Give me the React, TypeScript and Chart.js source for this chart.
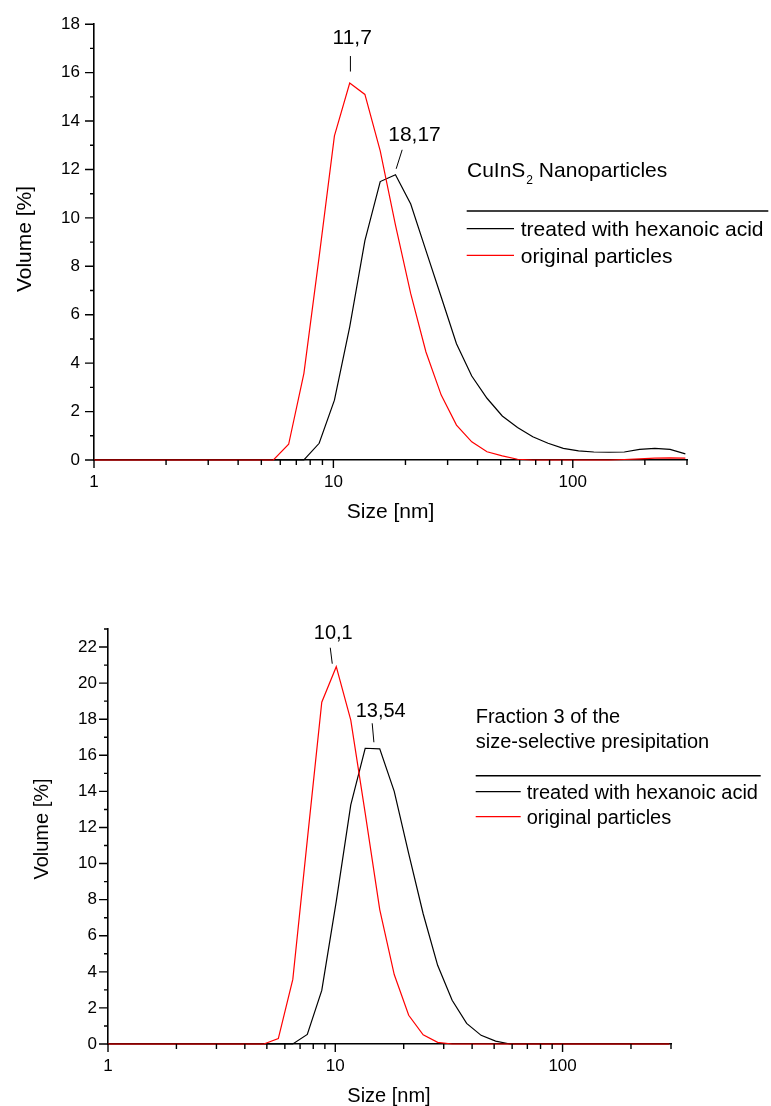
import React, { useEffect, useRef } from 'react';
import { Chart, registerables } from 'chart.js';

Chart.register(...registerables);

// DLS size classes [nm]
const sizeBins = [0.9649, 1.117, 1.294, 1.499, 1.736, 2.01, 2.328, 2.696, 3.122, 3.615, 4.187, 4.849, 5.615, 6.503, 7.531, 8.721, 10.1, 11.7, 13.54, 15.69, 18.17, 21.04, 24.36, 28.21, 32.67, 37.84, 43.82, 50.75, 58.77, 68.06, 78.82, 91.28, 105.7, 122.4, 141.8, 164.2, 190.1, 220.2, 255, 295.3];

// Top panel: CuInS2 nanoparticles, Volume [%]
const topTreated = [0, 0, 0, 0, 0, 0, 0, 0, 0, 0, 0, 0, 0, 0, 0, 0.69, 2.47, 5.5, 9.06, 11.5, 11.78, 10.57, 8.65, 6.73, 4.8, 3.47, 2.55, 1.82, 1.34, 0.96, 0.69, 0.48, 0.38, 0.33, 0.32, 0.33, 0.44, 0.48, 0.44, 0.25];
const topOriginal = [0, 0, 0, 0, 0, 0, 0, 0, 0, 0, 0, 0, 0, 0.65, 3.58, 8.4, 13.39, 15.57, 15.1, 12.77, 9.7, 6.87, 4.46, 2.68, 1.44, 0.75, 0.34, 0.17, 0.03, 0, 0, 0, 0, 0, 0, 0.02, 0.05, 0.08, 0.09, 0.08];

// Bottom panel: fraction 3, Volume [%]
const bottomTreated = [0, 0, 0, 0, 0, 0, 0, 0, 0, 0, 0, 0, 0, 0, 0.53, 2.97, 7.9, 13.25, 16.39, 16.36, 14.0, 10.55, 7.22, 4.36, 2.42, 1.14, 0.48, 0.16, 0, 0, 0, 0, 0, 0, 0, 0, 0, 0, 0, 0];
const bottomOriginal = [0, 0, 0, 0, 0, 0, 0, 0, 0, 0, 0, 0, 0.3, 3.58, 11.3, 18.94, 20.91, 17.95, 12.8, 7.45, 3.85, 1.59, 0.51, 0.09, 0, 0, 0, 0, 0, 0, 0, 0, 0, 0, 0, 0, 0, 0, 0, 0];

// Tick labels
const xMajorTicks = [1, 10, 100];
const topYTicks = [0, 2, 4, 6, 8, 10, 12, 14, 16, 18];
const bottomYTicks = [0, 2, 4, 6, 8, 10, 12, 14, 16, 18, 20, 22];

// Peak labels
const topPeakLabels = ['11,7', '18,17'];
const topPeakSizes = [11.7, 18.17];
const topPeakValues = [15.57, 11.78];
const bottomPeakLabels = ['10,1', '13,54'];
const bottomPeakSizes = [10.1, 13.54];
const bottomPeakValues = [20.91, 16.39];

const legendLabels = ['treated with hexanoic acid', 'original particles'];
const FAMILY = '"Liberation Sans", Arial, Helvetica, sans-serif';

type Seg = { t: string; sub?: boolean };
type Panel = {
  width: number;
  height: number;
  padTop: number;
  padRight: number;
  yAxisW: number;
  xAxisH: number;
  xMax: number;
  yMax: number;
  yTicks: number[];
  treated: number[];
  original: number[];
  tickFont: number;
  textFont: number;
  xTickPad: number;
  yTickPad: number;
  peaks: { label: string; size: number; value: number; l0: [number, number]; l1: [number, number]; t: [number, number] }[];
  titleLines: { segs: Seg[]; x: number; y: number }[];
  sepY: number;
  sepX0: number;
  sepX1: number;
  legLineX0: number;
  legLineX1: number;
  legTextX: number;
  legLineY: number[];
  legTextY: number[];
  yTitle: [number, number];
  xTitle: [number, number];
};

function makeDecor(p: Panel) {
  return {
    id: 'decor',
    afterDraw(chart: any) {
      const ctx = chart.ctx as CanvasRenderingContext2D;
      const xs = chart.scales.x;
      const ys = chart.scales.y;
      const a = chart.chartArea;
      ctx.save();
      ctx.strokeStyle = '#000';
      ctx.fillStyle = '#000';
      ctx.lineWidth = 1.4;
      // x ticks (major + minor)
      ctx.beginPath();
      for (let d = 1; d <= p.xMax; d *= 10) {
        for (let k = 1; k <= 9; k++) {
          const v = k * d;
          if (v > p.xMax + 1e-9) break;
          const px = xs.getPixelForValue(v);
          const len = k === 1 ? 8 : 5;
          ctx.moveTo(px, a.bottom);
          ctx.lineTo(px, a.bottom + len);
        }
      }
      // y ticks
      for (let v = 0; v <= p.yMax; v++) {
        const py = ys.getPixelForValue(v);
        const len = v % 2 === 0 ? 9 : 4;
        ctx.moveTo(a.left, py);
        ctx.lineTo(a.left - len, py);
      }
      ctx.stroke();

      // peak labels
      ctx.lineWidth = 1;
      ctx.font = `${p.textFont}px ${FAMILY}`;
      ctx.textAlign = 'center';
      ctx.textBaseline = 'alphabetic';
      for (const pk of p.peaks) {
        const px = xs.getPixelForValue(pk.size);
        const py = ys.getPixelForValue(pk.value);
        ctx.beginPath();
        ctx.moveTo(px + pk.l0[0], py + pk.l0[1]);
        ctx.lineTo(px + pk.l1[0], py + pk.l1[1]);
        ctx.stroke();
        ctx.fillText(pk.label, px + pk.t[0], py + pk.t[1]);
      }

      // title block
      ctx.textAlign = 'left';
      for (const line of p.titleLines) {
        let x = line.x;
        for (const s of line.segs) {
          if (s.sub) {
            ctx.font = `${Math.round(p.textFont * 0.58)}px ${FAMILY}`;
            ctx.fillText(s.t, x + 1, line.y + 7);
            x += ctx.measureText(s.t).width + 1;
          } else {
            ctx.font = `${p.textFont}px ${FAMILY}`;
            ctx.fillText(s.t, x, line.y);
            x += ctx.measureText(s.t).width;
          }
        }
      }
      ctx.font = `${p.textFont}px ${FAMILY}`;
      ctx.lineWidth = 1.4;
      ctx.beginPath();
      ctx.moveTo(p.sepX0, p.sepY);
      ctx.lineTo(p.sepX1, p.sepY);
      ctx.stroke();

      // legend
      const colors = ['#000000', '#ff0000'];
      for (let i = 0; i < legendLabels.length; i++) {
        ctx.strokeStyle = colors[i];
        ctx.lineWidth = 1.2;
        ctx.beginPath();
        ctx.moveTo(p.legLineX0, p.legLineY[i]);
        ctx.lineTo(p.legLineX1, p.legLineY[i]);
        ctx.stroke();
        ctx.fillStyle = '#000';
        ctx.fillText(legendLabels[i], p.legTextX, p.legTextY[i]);
      }

      // axis titles
      ctx.fillStyle = '#000';
      ctx.textAlign = 'center';
      ctx.fillText('Size [nm]', p.xTitle[0], p.xTitle[1]);
      ctx.save();
      ctx.translate(p.yTitle[0], p.yTitle[1]);
      ctx.rotate(-Math.PI / 2);
      ctx.fillText('Volume [%]', 0, 0);
      ctx.restore();
      ctx.restore();
    },
  };
}

function ChartPanel({ p, top }: { p: Panel; top: number }) {
  const ref = useRef<HTMLCanvasElement | null>(null);
  useEffect(() => {
    if (!ref.current) return;
    const mk = (vals: number[]) => sizeBins.map((s, i) => ({ x: s, y: vals[i] }));
    const tickFont = { family: FAMILY, size: p.tickFont };
    const clip = { left: 0, right: 4, top: 4, bottom: 4 };
    const chart = new Chart(ref.current, {
      type: 'line',
      data: {
        datasets: [
          { label: legendLabels[1], data: mk(p.original), borderColor: '#ff0000', borderWidth: 1.2, pointRadius: 0, tension: 0, fill: false, order: 0, clip },
          { label: legendLabels[0], data: mk(p.treated), borderColor: '#000000', borderWidth: 1.2, pointRadius: 0, tension: 0, fill: false, order: 1, clip },
        ],
      },
      options: {
        responsive: false,
        animation: false,
        devicePixelRatio: 1,
        events: [],
        layout: { padding: { top: p.padTop, right: p.padRight, left: 0, bottom: 0 } },
        plugins: { legend: { display: false }, tooltip: { enabled: false }, title: { display: false } },
        scales: {
          x: {
            type: 'logarithmic',
            min: 1,
            max: p.xMax,
            afterFit: (s: any) => { s.height = p.xAxisH; },
            afterBuildTicks: (s: any) => { s.ticks = xMajorTicks.map((v) => ({ value: v })); },
            grid: { display: false, drawTicks: false },
            border: { display: true, color: '#000', width: 1.6 },
            ticks: { font: tickFont, color: '#000', padding: p.xTickPad, maxRotation: 0, minRotation: 0, autoSkip: false, callback: (v: any) => String(v) },
          },
          y: {
            type: 'linear',
            min: 0,
            max: p.yMax,
            afterFit: (s: any) => { s.width = p.yAxisW; },
            afterBuildTicks: (s: any) => { s.ticks = p.yTicks.map((v) => ({ value: v })); },
            grid: { display: false, drawTicks: false },
            border: { display: true, color: '#000', width: 1.6 },
            ticks: { font: tickFont, color: '#000', padding: p.yTickPad, autoSkip: false, callback: (v: any) => String(v) },
          },
        },
      } as any,
      plugins: [makeDecor(p)],
    });
    return () => chart.destroy();
  }, [p]);
  return (
    <canvas
      ref={ref}
      width={p.width}
      height={p.height}
      style={{ position: 'absolute', left: 0, top, width: p.width, height: p.height, display: 'block' }}
    />
  );
}

const topPanel: Panel = {
  width: 771,
  height: 540,
  padTop: 23,
  padRight: 84,
  yAxisW: 94,
  xAxisH: 80,
  xMax: 300,
  yMax: 18,
  yTicks: topYTicks,
  treated: topTreated,
  original: topOriginal,
  tickFont: 17,
  textFont: 21,
  xTickPad: 12,
  yTickPad: 14,
  peaks: [
    { label: topPeakLabels[0], size: topPeakSizes[0], value: topPeakValues[0], l0: [0.7, -11.5], l1: [0.7, -27], t: [2.5, -39] },
    { label: topPeakLabels[1], size: topPeakSizes[1], value: topPeakValues[1], l0: [0.7, -6], l1: [6.7, -25], t: [19, -33.3] },
  ],
  titleLines: [{ segs: [{ t: 'CuInS' }, { t: '2', sub: true }, { t: ' Nanoparticles' }], x: 467, y: 176.7 }],
  sepY: 211,
  sepX0: 466.7,
  sepX1: 768.3,
  legLineX0: 466.7,
  legLineX1: 514,
  legTextX: 520.7,
  legLineY: [228.7, 255.3],
  legTextY: [235.7, 262.7],
  yTitle: [31, 239],
  xTitle: [390.5, 518],
};

const bottomPanel: Panel = {
  width: 771,
  height: 546,
  padTop: 69,
  padRight: 100,
  yAxisW: 108,
  xAxisH: 62,
  xMax: 300,
  yMax: 23,
  yTicks: bottomYTicks,
  treated: bottomTreated,
  original: bottomOriginal,
  tickFont: 17,
  textFont: 20,
  xTickPad: 12,
  yTickPad: 11,
  peaks: [
    { label: bottomPeakLabels[0], size: bottomPeakSizes[0], value: bottomPeakValues[0], l0: [-4, -3], l1: [-6, -19], t: [-3, -27.6] },
    { label: bottomPeakLabels[1], size: bottomPeakSizes[1], value: bottomPeakValues[1], l0: [8.7, -6], l1: [7, -25], t: [15.5, -31.7] },
  ],
  titleLines: [
    { segs: [{ t: 'Fraction 3 of the' }], x: 475.7, y: 163 },
    { segs: [{ t: 'size-selective presipitation' }], x: 475.7, y: 188.3 },
  ],
  sepY: 215.7,
  sepX0: 475.7,
  sepX1: 760.7,
  legLineX0: 475.7,
  legLineX1: 520.7,
  legTextX: 526.7,
  legLineY: [231.7, 256.7],
  legTextY: [239.3, 264],
  yTitle: [48, 269],
  xTitle: [389, 541.7],
};

export default function App() {
  return (
    <div style={{ position: 'absolute', left: 0, top: 0, width: 771, height: 1106, background: '#fff', overflow: 'hidden' }}>
      <ChartPanel p={topPanel} top={0} />
      <ChartPanel p={bottomPanel} top={560} />
    </div>
  );
}
